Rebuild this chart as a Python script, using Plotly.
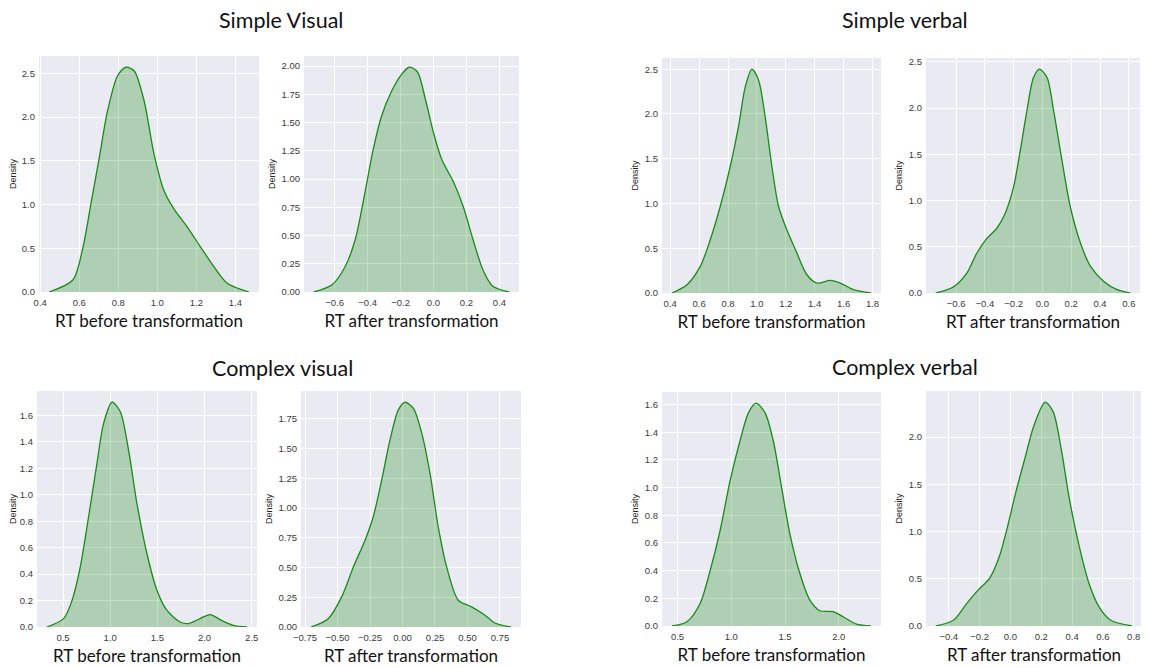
import plotly.graph_objects as go

# page body has an 8px default margin; figure is sized/positioned to compensate
OFF = 8
W, H = 1149 - OFF, 668 - OFF

group_titles = ["Simple Visual", "Simple verbal", "Complex visual", "Complex verbal"]
x_titles = ["RT before transformation", "RT after transformation"] * 4

# Panel 1: Simple Visual, before
sv_before_x = [0.445, 0.567, 0.618, 0.66, 0.703, 0.745, 0.796, 0.839, 0.881, 0.932, 0.983, 1.034, 1.085, 1.153, 1.22, 1.29, 1.358, 1.47]
sv_before_y = [0.0, 0.137, 0.50, 1.01, 1.54, 2.07, 2.47, 2.57, 2.53, 2.19, 1.58, 1.16, 0.95, 0.745, 0.52, 0.29, 0.10, 0.0]
# Panel 2: Simple Visual, after
sv_after_x = [-0.727, -0.616, -0.536, -0.476, -0.417, -0.367, -0.317, -0.257, -0.197, -0.148, -0.098, -0.048, 0.002, 0.051, 0.121, 0.181, 0.241, 0.30, 0.36, 0.46]
sv_after_y = [0.0, 0.064, 0.226, 0.46, 0.874, 1.256, 1.55, 1.77, 1.92, 1.99, 1.95, 1.70, 1.40, 1.17, 0.976, 0.755, 0.46, 0.197, 0.05, 0.0]
# Panel 3: Simple verbal, before
sb_before_x = [0.412, 0.516, 0.608, 0.677, 0.746, 0.815, 0.873, 0.919, 0.965, 1.011, 1.057, 1.104, 1.15, 1.207, 1.277, 1.346, 1.415, 1.507, 1.577, 1.668, 1.79]
sb_before_y = [0.0, 0.093, 0.297, 0.594, 0.966, 1.41, 1.86, 2.30, 2.50, 2.38, 1.97, 1.41, 0.966, 0.706, 0.446, 0.204, 0.111, 0.14, 0.111, 0.037, 0.0]
# Panel 4: Simple verbal, after
sb_after_x = [-0.741, -0.619, -0.525, -0.456, -0.386, -0.317, -0.259, -0.20, -0.154, -0.108, -0.062, -0.02, 0.032, 0.078, 0.136, 0.194, 0.264, 0.333, 0.426, 0.519, 0.61]
sb_after_y = [0.0, 0.065, 0.215, 0.43, 0.59, 0.70, 0.86, 1.15, 1.54, 1.97, 2.33, 2.42, 2.33, 1.97, 1.43, 0.93, 0.54, 0.29, 0.125, 0.036, 0.0]
# Panel 5: Complex visual, before
cv_before_x = [0.33, 0.506, 0.595, 0.683, 0.771, 0.86, 0.93, 1.019, 1.106, 1.194, 1.283, 1.389, 1.495, 1.60, 1.741, 1.829, 1.953, 2.059, 2.18, 2.305, 2.45]
cv_before_y = [0.0, 0.063, 0.20, 0.455, 0.834, 1.24, 1.54, 1.70, 1.63, 1.34, 0.935, 0.556, 0.278, 0.127, 0.038, 0.026, 0.064, 0.094, 0.05, 0.013, 0.0]
# Panel 6: Complex visual, after
cv_after_x = [-0.704, -0.571, -0.468, -0.378, -0.288, -0.225, -0.16, -0.096, -0.032, 0.019, 0.083, 0.148, 0.212, 0.275, 0.34, 0.429, 0.532, 0.635, 0.71, 0.835]
cv_after_y = [0.0, 0.07, 0.253, 0.505, 0.73, 0.927, 1.236, 1.573, 1.826, 1.89, 1.84, 1.63, 1.29, 0.842, 0.505, 0.225, 0.169, 0.099, 0.034, 0.0]
# Panel 7: Complex verbal, before
cb_before_x = [0.448, 0.587, 0.71, 0.803, 0.896, 0.989, 1.082, 1.159, 1.23, 1.314, 1.39, 1.468, 1.545, 1.638, 1.731, 1.824, 1.947, 2.04, 2.164, 2.30]
cb_before_y = [0.0, 0.031, 0.163, 0.40, 0.69, 1.05, 1.34, 1.54, 1.61, 1.54, 1.34, 1.00, 0.666, 0.379, 0.187, 0.11, 0.103, 0.067, 0.014, 0.0]
# Panel 8: Complex verbal, after
cb_after_x = [-0.484, -0.368, -0.283, -0.21, -0.135, -0.072, -0.019, 0.034, 0.098, 0.15, 0.225, 0.277, 0.33, 0.383, 0.447, 0.51, 0.574, 0.648, 0.79]
cb_after_y = [0.0, 0.064, 0.24, 0.38, 0.505, 0.735, 1.05, 1.41, 1.80, 2.11, 2.37, 2.27, 1.87, 1.34, 0.84, 0.45, 0.205, 0.064, 0.0]

panels_x = [sv_before_x, sv_after_x, sb_before_x, sb_after_x, cv_before_x, cv_after_x, cb_before_x, cb_after_x]
panels_y = [sv_before_y, sv_after_y, sb_before_y, sb_after_y, cv_before_y, cv_after_y, cb_before_y, cb_after_y]

# tick values per panel
x_ticks = [
    [0.4, 0.6, 0.8, 1.0, 1.2, 1.4],
    [-0.6, -0.4, -0.2, 0.0, 0.2, 0.4],
    [0.4, 0.6, 0.8, 1.0, 1.2, 1.4, 1.6, 1.8],
    [-0.6, -0.4, -0.2, 0.0, 0.2, 0.4, 0.6],
    [0.5, 1.0, 1.5, 2.0, 2.5],
    [-0.75, -0.5, -0.25, 0.0, 0.25, 0.5, 0.75],
    [0.5, 1.0, 1.5, 2.0],
    [-0.4, -0.2, 0.0, 0.2, 0.4, 0.6, 0.8],
]
y_ticks = [
    [0.0, 0.5, 1.0, 1.5, 2.0, 2.5],
    [0.0, 0.25, 0.5, 0.75, 1.0, 1.25, 1.5, 1.75, 2.0],
    [0.0, 0.5, 1.0, 1.5, 2.0, 2.5],
    [0.0, 0.5, 1.0, 1.5, 2.0, 2.5],
    [0.0, 0.2, 0.4, 0.6, 0.8, 1.0, 1.2, 1.4, 1.6],
    [0.0, 0.25, 0.5, 0.75, 1.0, 1.25, 1.5, 1.75],
    [0.0, 0.2, 0.4, 0.6, 0.8, 1.0, 1.2, 1.4, 1.6],
    [0.0, 0.5, 1.0, 1.5, 2.0],
]
x_fmt = [".1f", ".1f", ".1f", ".1f", ".1f", ".2f", ".1f", ".1f"]
y_fmt = [".1f", ".2f", ".1f", ".1f", ".1f", ".2f", ".1f", ".1f"]

# panel boxes in page pixels: left, right, top, bottom
boxes = [
    (39, 259, 56, 292), (304, 519, 56, 292),
    (662, 881, 58, 293), (926, 1140, 58, 293),
    (37, 257, 391, 627), (301, 521, 391, 627),
    (662, 881, 392, 626), (926, 1142, 391, 626),
]


def fx(px):
    return (px - OFF) / W


def fy(py):
    return 1 - (py - OFF) / H


BG = "#EAEAF2"
tickfont = dict(family="Liberation Sans, Arial, sans-serif", size=9.5, color="#3a3a3a")
titlefont = dict(family="Lato, Open Sans, sans-serif", size=17, color="#111")

fig = go.Figure()
layout = dict(template="none", width=W, height=H, margin=dict(l=0, r=0, t=0, b=0, autoexpand=False),
              paper_bgcolor="white", plot_bgcolor=BG, showlegend=False, shapes=[])

for i in range(8):
    n = "" if i == 0 else str(i + 1)
    xs, ys = panels_x[i], panels_y[i]
    fig.add_trace(go.Scatter(
        x=xs, y=ys, mode="lines", fill="tozeroy",
        line=dict(color="#1a8a1a", width=1.3, shape="spline", smoothing=0.8),
        fillcolor="rgba(0,128,0,0.25)",
        xaxis="x" + n, yaxis="y" + n, hoverinfo="x+y"))
    l, r, t, b = boxes[i]
    xmin, xmax = min(xs), max(xs)
    pad = 0.05 * (xmax - xmin)
    ymax = max(ys) * 1.05
    layout["xaxis" + n] = dict(
        domain=[fx(l), fx(r)], anchor="y" + n, automargin=False,
        range=[xmin - pad, xmax + pad], tickmode="array", tickvals=x_ticks[i], tickformat=x_fmt[i],
        showgrid=True, gridcolor="white", gridwidth=1, zeroline=False, showline=False,
        ticks="", tickfont=tickfont, ticklabelstandoff=3,
        title=dict(text=x_titles[i], font=titlefont, standoff=8))
    layout["yaxis" + n] = dict(
        domain=[fy(b), fy(t)], anchor="x" + n, automargin=False,
        range=[0, ymax], tickmode="array", tickvals=y_ticks[i], tickformat=y_fmt[i],
        showgrid=True, gridcolor="white", gridwidth=1, zeroline=False, showline=False,
        ticks="", tickfont=tickfont, ticklabelstandoff=3,
        title=dict(text="Density", font=dict(family="Liberation Sans, Arial, sans-serif", size=9, color="#222"), standoff=4))
    layout["shapes"].append(dict(
        type="rect", xref="paper", yref="paper", layer="below",
        x0=fx(l), x1=fx(r), y0=fy(b), y1=fy(t),
        fillcolor=BG, line=dict(width=0)))

fig.update_layout(**layout)

title_pos = [(281, 20), (905, 20), (282, 368), (905, 367)]
for txt, (px, py) in zip(group_titles, title_pos):
    fig.add_annotation(text=txt, x=fx(px), y=fy(py), xref="paper", yref="paper",
                       showarrow=False, xanchor="center", yanchor="middle",
                       font=dict(family="Lato, Open Sans, sans-serif", size=21.5, color="#111"))

fig.write_html("out.html")
